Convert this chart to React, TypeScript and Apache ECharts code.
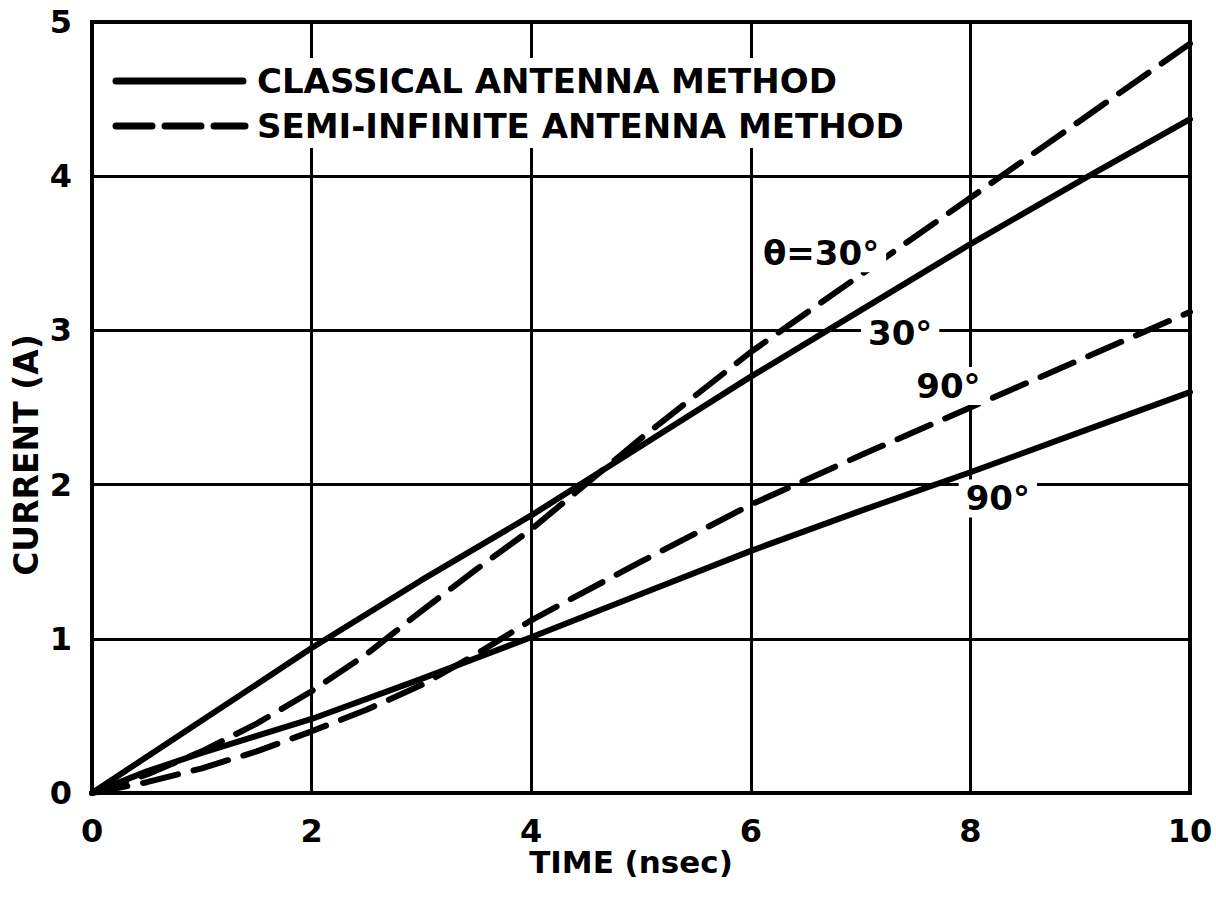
import React, { useEffect, useRef } from "react";
import * as echarts from "echarts";

// Classical antenna method, theta = 30 deg
const classical30T = [0, 1, 2, 3, 4, 5, 6, 7, 8, 9, 10];
const classical30I = [0, 0.47, 0.94, 1.38, 1.8, 2.25, 2.7, 3.13, 3.56, 3.97, 4.37];

// Semi-infinite antenna method, theta = 30 deg
const semi30T = [0, 0.5, 1, 1.5, 2, 2.5, 3, 3.5, 4, 5, 6, 7, 8, 9, 10];
const semi30I = [0, 0.12, 0.27, 0.45, 0.66, 0.9, 1.18, 1.45, 1.71, 2.3, 2.86, 3.36, 3.86, 4.36, 4.86];

// Classical antenna method, theta = 90 deg
const classical90T = [0, 0.5, 1, 1.5, 2, 3, 4, 5, 6, 7, 8, 9, 10];
const classical90I = [0, 0.14, 0.26, 0.37, 0.48, 0.74, 1.01, 1.29, 1.57, 1.83, 2.08, 2.34, 2.6];

// Semi-infinite antenna method, theta = 90 deg
const semi90T = [0, 0.5, 1, 1.5, 2, 2.5, 3, 3.5, 4, 5, 6, 7, 8, 9, 10];
const semi90I = [0, 0.07, 0.16, 0.27, 0.4, 0.54, 0.7, 0.9, 1.12, 1.5, 1.87, 2.19, 2.5, 2.81, 3.12];

// Curve annotations (data coordinates)
const annotationText = ["θ=30°", "30°", "90°", "90°"];
const annotationT = [6.64, 7.36, 7.8, 8.25];
const annotationI = [3.5, 2.98, 2.64, 1.91];

const CLASSICAL = "CLASSICAL ANTENNA METHOD";
const SEMI = "SEMI-INFINITE ANTENNA METHOD";
const X_NAME = "TIME (nsec)";
const Y_NAME = "CURRENT (A)";

const FONT = "DejaVu Sans";

const zip = (t: number[], v: number[]) => t.map((x, i) => [x, v[i]]);

export default function App() {
  const ref = useRef<HTMLDivElement>(null);

  useEffect(() => {
    if (!ref.current) return;
    const chart = echarts.init(ref.current, null, { renderer: "svg" });

    const solid = { color: "#000", width: 6, type: "solid" as const, cap: "round" as const };
    const dashed = { color: "#000", width: 6, type: [36, 16], cap: "round" as const };

    const lineSeries = (name: string, data: number[][], lineStyle: any) => ({
      type: "line",
      name,
      data,
      symbol: "none",
      showSymbol: false,
      smooth: false,
      lineStyle,
      z: 3,
    });

    chart.setOption({
      animation: false,
      backgroundColor: "#fff",
      color: ["#000"],
      grid: {
        left: 92,
        right: 26,
        top: 22,
        bottom: 109,
        show: true,
        borderColor: "#000",
        borderWidth: 4,
        backgroundColor: "transparent",
      },
      xAxis: {
        type: "value",
        min: 0,
        max: 10,
        interval: 2,
        axisLine: { show: false },
        axisTick: { show: false },
        axisLabel: { fontFamily: FONT, fontWeight: "bold", fontSize: 32, color: "#000", margin: 22 },
        splitLine: { show: true, lineStyle: { color: "#000", width: 3 } },
      },
      yAxis: {
        type: "value",
        min: 0,
        max: 5,
        interval: 1,
        axisLine: { show: false },
        axisTick: { show: false },
        axisLabel: { fontFamily: FONT, fontWeight: "bold", fontSize: 32, color: "#000", margin: 20 },
        splitLine: { show: true, lineStyle: { color: "#000", width: 3 } },
      },
      series: [
        lineSeries(CLASSICAL, zip(classical30T, classical30I), solid),
        lineSeries(SEMI, zip(semi30T, semi30I), dashed),
        lineSeries(CLASSICAL, zip(classical90T, classical90I), solid),
        lineSeries(SEMI, zip(semi90T, semi90I), dashed),
      ],
    });

    // Curve labels placed through the axes' own scales
    const labels = annotationText.map((text, k) => {
      const [px, py] = chart.convertToPixel({ gridIndex: 0 }, [annotationT[k], annotationI[k]]) as number[];
      return {
        type: "text",
        x: px,
        y: py,
        z: 20,
        style: {
          text,
          fontFamily: FONT,
          fontWeight: "bold",
          fontSize: 34,
          fill: "#000",
          align: "center",
          verticalAlign: "middle",
          backgroundColor: "#fff",
          padding: [2, 7],
        },
      };
    });

    const textStyle = (text: string, size: number) => ({
      text,
      fontFamily: FONT,
      fontWeight: "bold",
      fontSize: size,
      fill: "#000",
    });

    // Legend box drawn over the grid lines
    const legend = {
      type: "group",
      z: 15,
      children: [
        { type: "rect", shape: { x: 100, y: 58, width: 800, height: 90 }, style: { fill: "#fff" } },
        {
          type: "line",
          shape: { x1: 116, y1: 81, x2: 243, y2: 81 },
          style: { stroke: "#000", lineWidth: 7, lineCap: "round" },
        },
        {
          type: "line",
          shape: { x1: 116, y1: 126, x2: 245, y2: 126 },
          style: { stroke: "#000", lineWidth: 7, lineCap: "round", lineDash: [36, 13] },
        },
        {
          type: "text",
          x: 257,
          y: 81,
          style: { ...textStyle(CLASSICAL, 34), verticalAlign: "middle" },
        },
        {
          type: "text",
          x: 257,
          y: 126,
          style: { ...textStyle(SEMI, 34), verticalAlign: "middle" },
        },
      ],
    };

    // Axis titles
    const axisNames = [
      {
        type: "text",
        x: 631,
        y: 862,
        style: { ...textStyle(X_NAME, 31), align: "center", verticalAlign: "middle" },
      },
      {
        type: "text",
        x: 26,
        y: 455,
        rotation: Math.PI / 2,
        style: { ...textStyle(Y_NAME, 33), align: "center", verticalAlign: "middle" },
      },
    ];

    chart.setOption({ graphic: [...labels, legend, ...axisNames] });

    return () => chart.dispose();
  }, []);

  return (
    <div
      ref={ref}
      style={{ position: "fixed", left: 0, top: 0, width: 1216, height: 902, background: "#fff" }}
    />
  );
}
